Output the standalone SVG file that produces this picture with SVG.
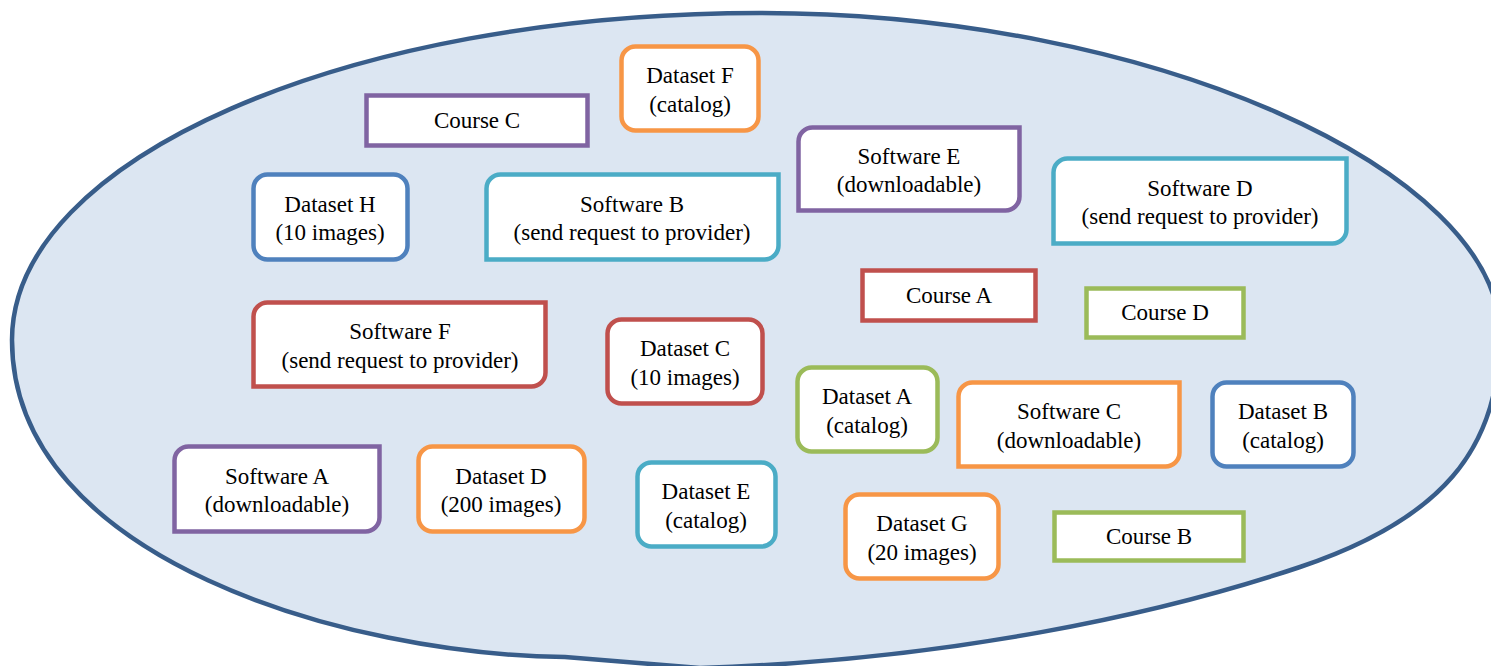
<svg xmlns="http://www.w3.org/2000/svg" width="1491" height="666" viewBox="0 0 1491 666">
<style>
  .bg { fill: #DCE6F2; stroke: #385D8A; stroke-width: 4.5; }
  .box { fill: #FFFFFF; stroke-width: 4.5; }
  .purple { stroke: #8064A2; }
  .orange { stroke: #F79646; }
  .blue { stroke: #4F81BD; }
  .teal { stroke: #4BACC6; }
  .red { stroke: #C0504D; }
  .green { stroke: #9BBB59; }
  .lbl { font-size: 23px; fill: #000000; text-anchor: middle; }
</style>
<rect width="1491" height="666" fill="#FFFFFF"/>
<g id="collection">
  <path class="bg" d="M 12,340 C 12,159 347,13 760,13 C 1150,13 1500,170 1500,335 C 1500,450 1440,520 1300,567 C 1160,614 950,660 700,668 L 565,657 C 350,655 12,560 12,340 Z"/>
</g>
<g id="connectors"></g>
<g class="lbl" font-family="'Liberation Serif', 'DejaVu Serif', 'Times New Roman', serif">
<g id="dataset-f">
  <rect class="box orange" x="621.5" y="46.5" width="137" height="84" rx="14"/>
  <text x="690" y="83">Dataset F</text>
  <text x="690" y="112">(catalog)</text>
</g>
<g id="course-c">
  <rect class="box purple" x="366.5" y="95.5" width="221" height="50"/>
  <text x="477" y="128">Course C</text>
</g>
<g id="software-e">
  <path class="box purple" d="M 798.5,141.5 A 14 14 0 0 1 812.5,127.5 H 1019.5 V 196.5 A 14 14 0 0 1 1005.5,210.5 H 798.5 Z"/>
  <text x="909" y="164">Software E</text>
  <text x="909" y="192">(downloadable)</text>
</g>
<g id="dataset-h">
  <rect class="box blue" x="253.5" y="174.5" width="154" height="85" rx="14"/>
  <text x="330" y="212">Dataset H</text>
  <text x="330" y="240">(10 images)</text>
</g>
<g id="software-b">
  <path class="box teal" d="M 486.5,188.5 A 14 14 0 0 1 500.5,174.5 H 778.5 V 245.5 A 14 14 0 0 1 764.5,259.5 H 486.5 Z"/>
  <text x="632" y="212">Software B</text>
  <text x="632" y="240">(send request to provider)</text>
</g>
<g id="software-d">
  <path class="box teal" d="M 1053.5,172.5 A 14 14 0 0 1 1067.5,158.5 H 1346.5 V 229.5 A 14 14 0 0 1 1332.5,243.5 H 1053.5 Z"/>
  <text x="1200" y="196">Software D</text>
  <text x="1200" y="224">(send request to provider)</text>
</g>
<g id="course-a">
  <rect class="box red" x="862.5" y="270.5" width="173" height="50"/>
  <text x="949" y="303">Course A</text>
</g>
<g id="course-d">
  <rect class="box green" x="1086.5" y="288.5" width="157" height="49"/>
  <text x="1165" y="320">Course D</text>
</g>
<g id="software-f">
  <path class="box red" d="M 253.5,316.5 A 14 14 0 0 1 267.5,302.5 H 545.5 V 372.5 A 14 14 0 0 1 531.5,386.5 H 253.5 Z"/>
  <text x="400" y="339">Software F</text>
  <text x="400" y="368">(send request to provider)</text>
</g>
<g id="dataset-c">
  <rect class="box red" x="607.5" y="319.5" width="155" height="84" rx="14"/>
  <text x="685" y="356">Dataset C</text>
  <text x="685" y="385">(10 images)</text>
</g>
<g id="dataset-a">
  <rect class="box green" x="797.5" y="367.5" width="140" height="84" rx="14"/>
  <text x="867" y="404">Dataset A</text>
  <text x="867" y="433">(catalog)</text>
</g>
<g id="software-c">
  <path class="box orange" d="M 958.5,396.5 A 14 14 0 0 1 972.5,382.5 H 1179.5 V 452.5 A 14 14 0 0 1 1165.5,466.5 H 958.5 Z"/>
  <text x="1069" y="419">Software C</text>
  <text x="1069" y="448">(downloadable)</text>
</g>
<g id="dataset-b">
  <rect class="box blue" x="1212.5" y="382.5" width="141" height="84" rx="14"/>
  <text x="1283" y="419">Dataset B</text>
  <text x="1283" y="448">(catalog)</text>
</g>
<g id="software-a">
  <path class="box purple" d="M 174.5,460.5 A 14 14 0 0 1 188.5,446.5 H 379.5 V 517.5 A 14 14 0 0 1 365.5,531.5 H 174.5 Z"/>
  <text x="277" y="484">Software A</text>
  <text x="277" y="512">(downloadable)</text>
</g>
<g id="dataset-d">
  <rect class="box orange" x="418.5" y="446.5" width="166" height="85" rx="14"/>
  <text x="501" y="484">Dataset D</text>
  <text x="501" y="512">(200 images)</text>
</g>
<g id="dataset-e">
  <rect class="box teal" x="637.5" y="462.5" width="138" height="84" rx="14"/>
  <text x="706" y="499">Dataset E</text>
  <text x="706" y="528">(catalog)</text>
</g>
<g id="dataset-g">
  <rect class="box orange" x="845.5" y="494.5" width="153" height="84" rx="14"/>
  <text x="922" y="531">Dataset G</text>
  <text x="922" y="560">(20 images)</text>
</g>
<g id="course-b">
  <rect class="box green" x="1054.5" y="512.5" width="189" height="48"/>
  <text x="1149" y="544">Course B</text>
</g>
</g>
</svg>
